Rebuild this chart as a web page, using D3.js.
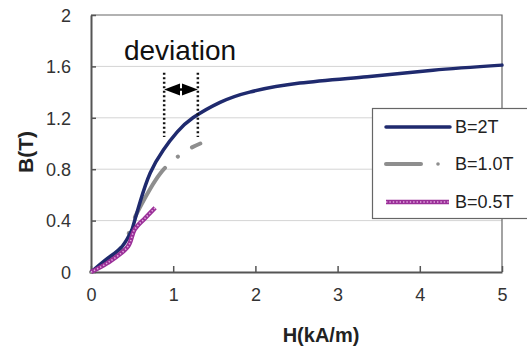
<!DOCTYPE html>
<html>
<head>
<meta charset="utf-8">
<script src="https://cdn.jsdelivr.net/npm/d3@7"></script>
<style>
  body { margin: 0; background: #fff; }
  svg { display: block; font-family: "Liberation Sans", Arial, sans-serif; }
</style>
</head>
<body>
<div id="chart"></div>
<script>
// B-H curves
const hB2 = [0, 0.17, 0.38, 0.5, 0.6, 0.72, 0.88, 1.05, 1.24, 1.57, 1.93, 2.54, 3.36, 4.16, 5];
const bB2 = [0, 0.09, 0.2, 0.33, 0.55, 0.77, 0.95, 1.09, 1.2, 1.32, 1.4, 1.47, 1.52, 1.57, 1.61];
const kinkB2 = 3; // index where the B=2T curve turns sharply
const hB1 = [0, 0.2, 0.4, 0.53, 0.66, 0.78, 0.9, 1.06, 1.2, 1.33];
const bB1 = [0, 0.08, 0.22, 0.42, 0.58, 0.71, 0.81, 0.9, 0.96, 1.0];
const hB05 = [0, 0.2, 0.45, 0.53, 0.66, 0.78];
const bB05 = [0, 0.07, 0.2, 0.33, 0.42, 0.5];
const xTicks = [0, 1, 2, 3, 4, 5];
const yTicks = [0, 0.4, 0.8, 1.2, 1.6, 2];
const legendNames = ["B=2T", "B=1.0T", "B=0.5T"];
// deviation marker: H positions, B range, arrow B
const devH = [0.89, 1.3];
const devB = [1.05, 1.55];
const devArrowB = 1.42;

const width = 527, height = 352;
const svg = d3.select("#chart").append("svg").attr("width", width).attr("height", height);

const x = d3.scaleLinear().domain([0, 5]).range([91, 502]);
const y = d3.scaleLinear().domain([0, 2]).range([272, 15]);

// gridlines
svg.append("g").selectAll("line").data(yTicks.slice(1, -1)).join("line")
  .attr("x1", x(0)).attr("x2", x(5))
  .attr("y1", d => y(d)).attr("y2", d => y(d))
  .attr("stroke", "#d4d4d4").attr("stroke-width", 1);

// frame top + right
svg.append("path")
  .attr("d", `M${x(0)},${y(2)}H${x(5)}V${y(0)}`)
  .attr("fill", "none").attr("stroke", "#666").attr("stroke-width", 1.2);

// axes
const xAxis = svg.append("g").attr("transform", `translate(0,${y(0)})`)
  .call(d3.axisBottom(x).tickValues(xTicks).tickFormat(d3.format("d")).tickSizeInner(-6).tickSizeOuter(0).tickPadding(16));
const yAxis = svg.append("g").attr("transform", `translate(${x(0)},0)`)
  .call(d3.axisLeft(y).tickValues(yTicks).tickFormat(d => d === 0 || d === 2 ? d : d3.format(".1f")(d)).tickSizeInner(-5).tickSizeOuter(0).tickPadding(20));
[xAxis, yAxis].forEach(a => {
  a.select(".domain").attr("stroke", "#555").attr("stroke-width", 2);
  a.selectAll(".tick line").attr("stroke", "#555").attr("stroke-width", 1.5);
  a.selectAll(".tick text").attr("fill", "#333").attr("font-size", 18)
    .attr("font-family", "Liberation Sans, Arial, sans-serif");
});
yAxis.selectAll(".tick text").attr("dy", "0.35em");
xAxis.selectAll(".tick text").attr("dy", "0.71em");

// axis titles
svg.append("text").attr("x", 321).attr("y", 342).attr("text-anchor", "middle")
  .attr("font-size", 20).attr("font-weight", "bold").attr("fill", "#222").text("H(kA/m)");
svg.append("text").attr("transform", "translate(33,152) rotate(-90)").attr("text-anchor", "middle")
  .attr("font-size", 21).attr("font-weight", "bold").attr("fill", "#222").text("B(T)");

const line = d3.line().x(d => x(d[0])).y(d => y(d[1])).curve(d3.curveCatmullRom.alpha(0.5));
const smooth = d3.line().x(d => x(d[0])).y(d => y(d[1])).curve(d3.curveNatural);
const zip = (a, b) => a.map((v, i) => [v, b[i]]);

// B=1.0T gray dash-dot
const grayPath = svg.append("path").datum(zip(hB1, bB1))
  .attr("d", line).attr("fill", "none").attr("stroke", "#8e8e8e")
  .attr("stroke-width", 4).attr("stroke-linecap", "round");
{
  const node = grayPath.node();
  const L = node.getTotalLength();
  let lo = 0, hi = L;
  const tx = x(0.9);
  for (let i = 0; i < 40; i++) {
    const m = (lo + hi) / 2;
    if (node.getPointAtLength(m).x < tx) lo = m; else hi = m;
  }
  const D = 58, G = 17, P = D + G + 0.1 + G;
  const off = ((D - lo) % P + P) % P;
  grayPath.attr("stroke-dasharray", `${D},${G},0.1,${G}`).attr("stroke-dashoffset", off);
}

// B=2T navy, drawn in two smooth pieces meeting at the kink
const navy = zip(hB2, bB2);
svg.append("path").datum(navy.slice(0, kinkB2 + 1))
  .attr("d", line).attr("fill", "none").attr("stroke", "#1f2a6e").attr("stroke-width", 3.5);
svg.append("path").datum(navy.slice(kinkB2))
  .attr("d", smooth).attr("fill", "none").attr("stroke", "#1f2a6e").attr("stroke-width", 3.5)
  .attr("stroke-linecap", "round");

// B=0.5T magenta beaded
const magData = zip(hB05, bB05);
svg.append("path").datum(magData).attr("d", line).attr("fill", "none")
  .attr("stroke", "#9a2f98").attr("stroke-width", 4.5);
svg.append("path").datum(magData).attr("d", line).attr("fill", "none")
  .attr("stroke", "#e2a8de").attr("stroke-width", 1.6).attr("stroke-dasharray", "1.4,2");

// deviation annotation
svg.append("text").attr("x", 180).attr("y", 60).attr("text-anchor", "middle")
  .attr("font-size", 28).attr("fill", "#111").text("deviation");
svg.append("g").selectAll("line").data(devH).join("line")
  .attr("x1", d => x(d)).attr("x2", d => x(d))
  .attr("y1", y(devB[1])).attr("y2", y(devB[0]))
  .attr("stroke", "#111").attr("stroke-width", 2.5).attr("stroke-dasharray", "2,2.5");
const ay = y(devArrowB), ax1 = x(devH[0]), ax2 = x(devH[1]), am = (ax1 + ax2) / 2;
svg.append("line").attr("x1", ax1 + 6).attr("x2", ax2 - 6).attr("y1", ay).attr("y2", ay)
  .attr("stroke", "#000").attr("stroke-width", 2.5);
svg.append("path").attr("d", `M${ax1},${ay}L${am - 1},${ay - 6}L${am - 1},${ay + 6}Z`).attr("fill", "#000");
svg.append("path").attr("d", `M${ax2},${ay}L${am + 1},${ay - 6}L${am + 1},${ay + 6}Z`).attr("fill", "#000");

// legend
const lg = svg.append("g");
lg.append("rect").attr("x", 372.5).attr("y", 108.5).attr("width", 170).attr("height", 110)
  .attr("fill", "#fff").attr("stroke", "#666").attr("stroke-width", 1.2);
const rowY = [127, 164, 202];
lg.append("line").attr("x1", 386).attr("x2", 450).attr("y1", rowY[0]).attr("y2", rowY[0])
  .attr("stroke", "#1f2a6e").attr("stroke-width", 3.5).attr("stroke-linecap", "round");
lg.append("line").attr("x1", 386).attr("x2", 421).attr("y1", rowY[1]).attr("y2", rowY[1])
  .attr("stroke", "#8e8e8e").attr("stroke-width", 4).attr("stroke-linecap", "round");
lg.append("circle").attr("cx", 438).attr("cy", rowY[1]).attr("r", 1.8).attr("fill", "#8e8e8e");
lg.append("line").attr("x1", 386).attr("x2", 449).attr("y1", rowY[2]).attr("y2", rowY[2])
  .attr("stroke", "#9a2f98").attr("stroke-width", 4.5);
lg.append("line").attr("x1", 386).attr("x2", 449).attr("y1", rowY[2]).attr("y2", rowY[2])
  .attr("stroke", "#e2a8de").attr("stroke-width", 1.6).attr("stroke-dasharray", "1.4,2");
lg.selectAll("text.lab").data(legendNames).join("text").attr("class", "lab")
  .attr("x", 455).attr("y", (d, i) => rowY[i]).attr("dy", "0.35em")
  .attr("font-size", 18).attr("fill", "#222").text(d => d);
</script>
</body>
</html>
